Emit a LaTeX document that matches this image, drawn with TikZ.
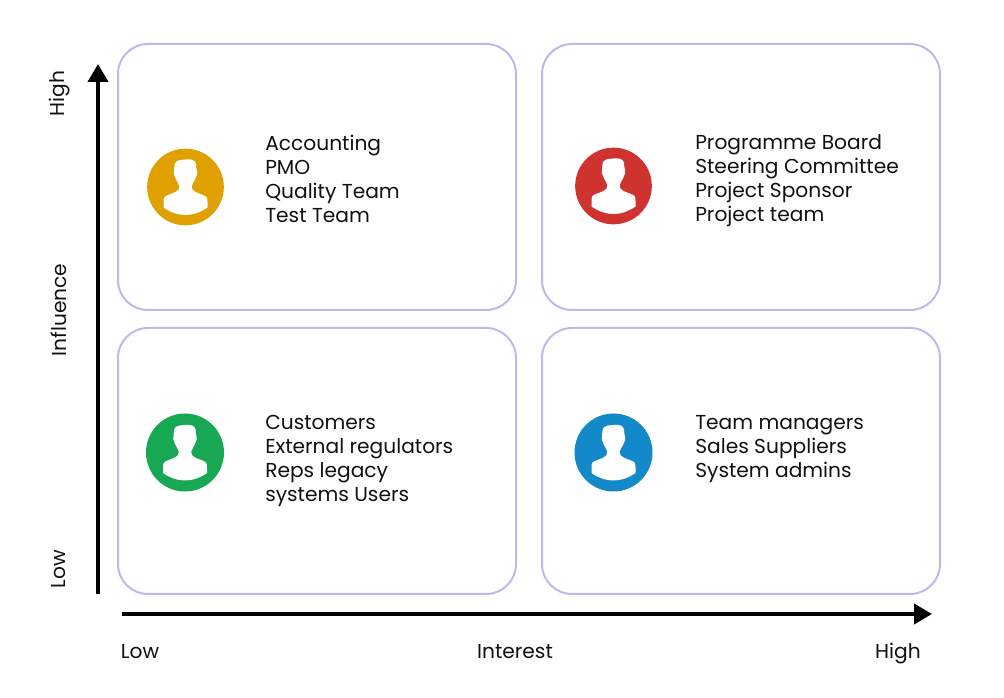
\documentclass[tikz,border=0pt]{standalone}
\usepackage{fontspec}
\setmainfont{Poppins}
\usetikzlibrary{arrows.meta}
\definecolor{frame}{HTML}{BFB8EC}
\definecolor{ink}{HTML}{111111}
\definecolor{cAmber}{HTML}{DFA000}
\definecolor{cRed}{HTML}{CE3330}
\definecolor{cGreen}{HTML}{18A853}
\definecolor{cBlue}{HTML}{1389C9}
\tikzset{
  quadrant/.style={draw=frame,line width=1.5pt,rounded corners=22.5pt,minimum width=298.5pt,minimum height=199.5pt,inner sep=0pt},
  badge/.style={circle,minimum size=57.5pt,inner sep=0pt},
  items/.style={anchor=west,align=left,inner sep=0pt,text=ink,font=\fontsize{15.15pt}{18pt}\selectfont},
  axislabel/.style={inner sep=0pt,text=ink,font=\fontsize{15.15pt}{18pt}\selectfont},
  axisline/.style={line width=3pt,-{Triangle[length=13.5pt,width=15pt]}},
  person/.pic={
    \fill[white] (0,-27.5) .. controls (6,-28.5) and (10,-26.5) .. (10.5,-23)
      .. controls (11,-20) and (10.5,-18) .. (11.5,-16)
      .. controls (12.2,-14) and (11.5,-11.5) .. (10.5,-10)
      .. controls (9.5,-6) and (6.5,-4) .. (6.2,-1)
      .. controls (6,2) and (7,3.5) .. (10,5)
      .. controls (14,7) and (19,8) .. (21,10)
      .. controls (22,11.5) and (22,13) .. (22,15)
      -- (22,20.5)
      .. controls (15,25.5) and (7,28) .. (0,28)
      .. controls (-7,28) and (-15,25.5) .. (-22,20.5)
      -- (-22,15)
      .. controls (-22,13) and (-22,11.5) .. (-21,10)
      .. controls (-19,8) and (-14,7) .. (-10,5)
      .. controls (-7,3.5) and (-6,2) .. (-6.2,-1)
      .. controls (-6.5,-4) and (-9.5,-6) .. (-10.5,-10)
      .. controls (-11.5,-11.5) and (-12.2,-14) .. (-11.5,-16)
      .. controls (-11,-19) and (-11.5,-22) .. (-10.5,-24)
      .. controls (-8,-27.5) and (-4,-27) .. (0,-27.5) -- cycle;
  }
}
\begin{document}
\begin{tikzpicture}[x=0.75pt,y=-0.75pt]
\useasboundingbox (0,0) rectangle (1004,698);
\node[quadrant] (tl) at (317,177) {};
\node[quadrant] (tr) at (741,177) {};
\node[quadrant] (bl) at (317,461) {};
\node[quadrant] (br) at (741,461) {};
\node[badge,fill=cAmber] (ca) at (185.5,187) {};
\node[badge,fill=cRed] (cr) at (613.5,186) {};
\node[badge,fill=cGreen,minimum size=58.5pt] (cg) at (185,452.5) {};
\node[badge,fill=cBlue,minimum size=58.5pt] (cb) at (613.5,452.5) {};
\pic at (ca) {person};
\pic at (cr) {person};
\pic at (cg) {person};
\pic at (cb) {person};
\node[items] (ta) at (265,179) {Accounting\\PMO\\Quality Team\\Test Team};
\node[items] (tb) at (695,181) {Programme Board\\Steering Committee\\Project Sponsor\\Project team};
\node[items] (tc) at (265,461) {Customers\\External regulators\\Reps legacy\\systems Users};
\node[items] (td) at (695,449) {Team managers\\Sales Suppliers\\System admins};
\coordinate (vs) at (98,594);
\coordinate (ve) at (98,64);
\coordinate (hs) at (122,614);
\coordinate (he) at (932,614);
\draw[axisline] (vs) -- (ve);
\draw[axisline] (hs) -- (he);
\node[axislabel,rotate=90] (yh) at (59.5,93.5) {High};
\node[axislabel,rotate=90] (yi) at (59,310) {Influence};
\node[axislabel,rotate=90] (yl) at (59,569.5) {Low};
\node[axislabel] (xl) at (140,652) {Low};
\node[axislabel] (xi) at (515,652) {Interest};
\node[axislabel] (xh) at (898,654) {High};
\end{tikzpicture}
\end{document}
